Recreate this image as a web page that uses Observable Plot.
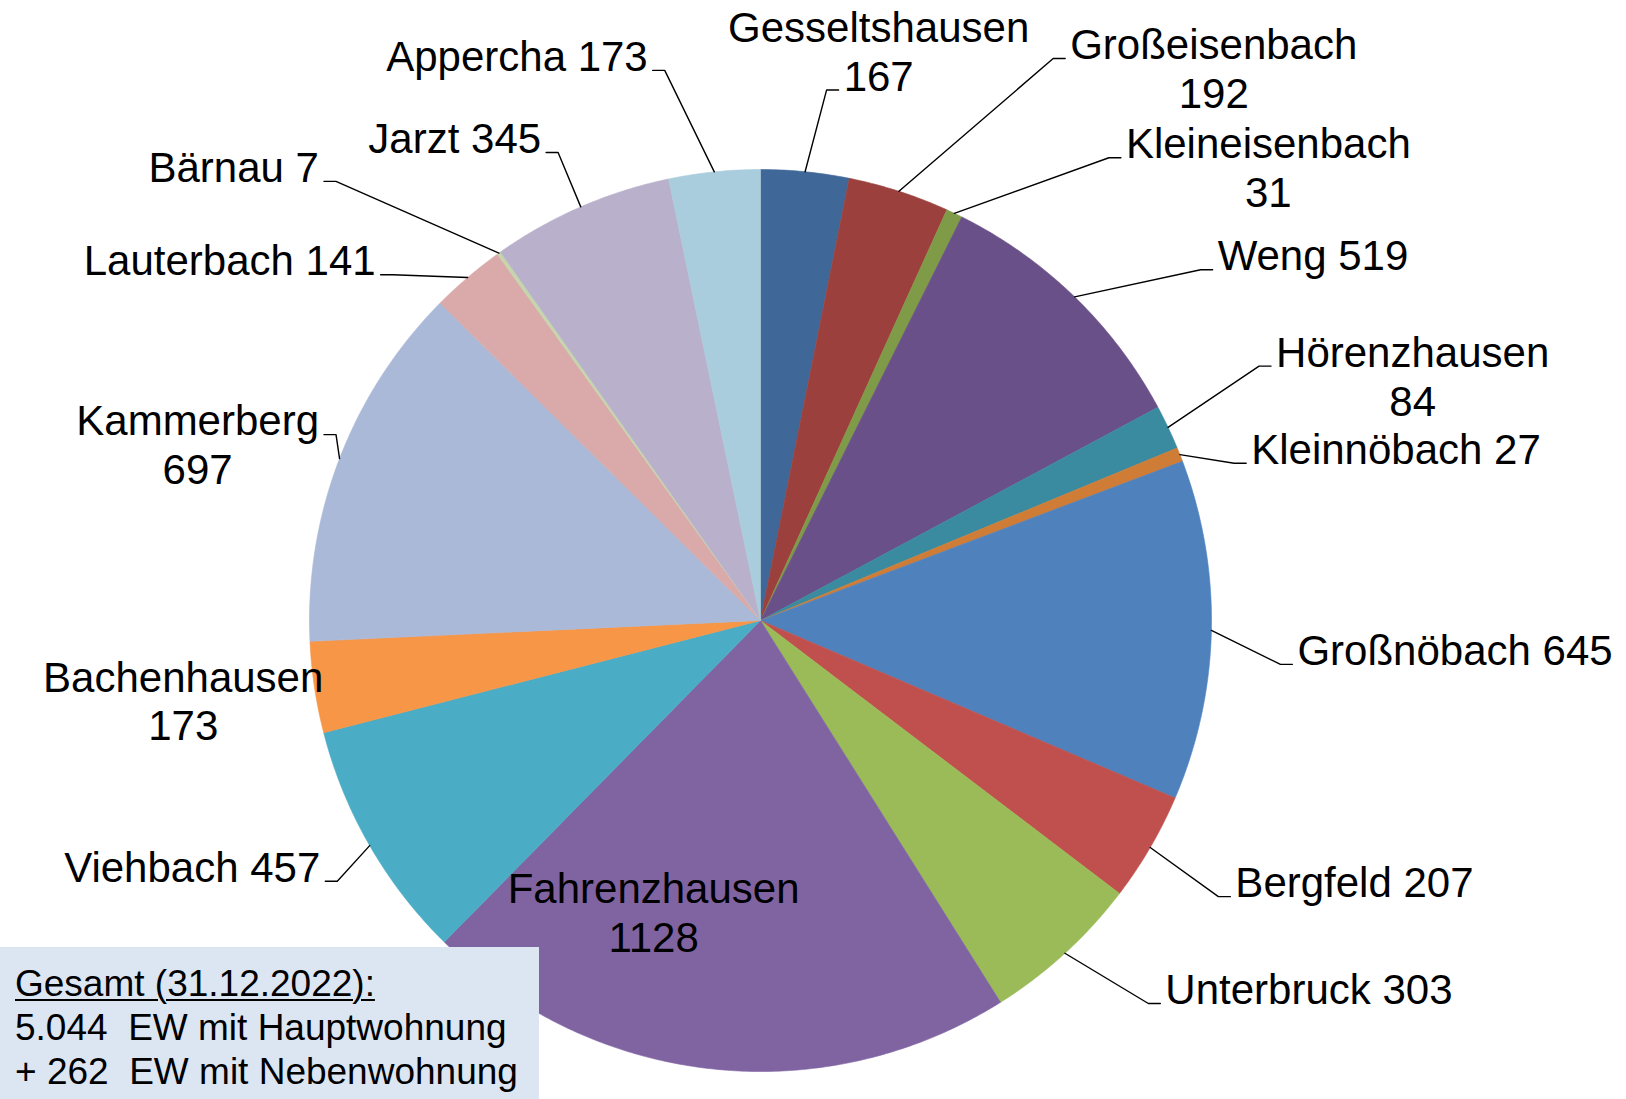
<!DOCTYPE html>
<html>
<head>
<meta charset="utf-8">
<script src="https://cdn.jsdelivr.net/npm/d3@7"></script>
<script src="https://cdn.jsdelivr.net/npm/@observablehq/plot@0.6"></script>
<style>
  body { margin: 0; background: #fff; font-family: "Liberation Sans", Arial, sans-serif; }
  #wrap { position: relative; width: 1626px; height: 1099px; overflow: hidden; }
  #box { position: absolute; left: 0; top: 947px; width: 539px; height: 152px; background: #DCE6F2;
         font-size: 37px; line-height: 44px; color: #000; padding: 15px 0 0 15px; box-sizing: border-box;
         white-space: pre; font-family: "Liberation Sans", Arial, sans-serif; }
  #box .u { text-decoration: underline; text-underline-offset: 3px; text-decoration-thickness: 2px; }
</style>
</head>
<body>
<div id="wrap">
  <div id="chart"></div>
  <div id="box"><div class="u">Gesamt (31.12.2022):</div><div>5.044  EW mit Hauptwohnung</div><div>+ 262  EW mit Nebenwohnung</div></div>
</div>
<script>
// ---- data ----
const names = ["Gesseltshausen", "Großeisenbach", "Kleineisenbach", "Weng", "Hörenzhausen", "Kleinnöbach",
  "Großnöbach", "Bergfeld", "Unterbruck", "Fahrenzhausen", "Viehbach", "Bachenhausen", "Kammerberg",
  "Lauterbach", "Bärnau", "Jarzt", "Appercha"];
const values = [167, 192, 31, 519, 84, 27, 645, 207, 303, 1128, 457, 173, 697, 141, 7, 345, 173];
const colors = ["#3F6898", "#9C403D", "#7F9B48", "#6A5088", "#3A8BA0", "#CF7C37",
  "#4F81BD", "#C0504D", "#9BBB59", "#8064A2", "#4BACC6", "#F79646", "#AAB9D7",
  "#D9AAA9", "#C6D6AC", "#B9B0CB", "#A9CDDC"];
const twoLineLabel = [true, true, true, false, true, false, false, false, false, true, false, true, true,
  false, false, false, false];

// ---- label layout (in units of pie radius, y downward) ----
const labelX = [0.262, 1.005, 1.126, 1.225, 1.446, 1.409, 1.540, 1.317, 1.216, -0.237, -1.260, -1.280, -1.248,
  -1.177, -1.168, -0.678, -0.540];
const labelY = [-1.264, -1.225, -1.005, -0.811, -0.543, -0.382, 0.064, 0.579, 0.816, 0.646, 0.545, 0.177, -0.391,
  -0.800, -1.007, -1.071, -1.253];
const leaderAttachLine = [1, 0, 0, 0, 0, 0, 0, 0, 0, 0, 0, 0, 0, 0, 0, 0, 0];
const showLeader = [true, true, true, true, true, true, true, true, true, false, true, false, true,
  true, true, true, true];

// ---- geometry ----
const W = 1626, H = 1099, CX = 760, CY = 620, R = 451;
const FS = 42, LH = 49;
const total = d3.sum(values);
const ends = Array.from(d3.cumsum(values));

const slices = [];
names.forEach((n, i) => {
  const a0 = (ends[i] - values[i]) / total * 2 * Math.PI;
  const a1 = ends[i] / total * 2 * Math.PI;
  const steps = Math.max(2, Math.ceil((a1 - a0) / (Math.PI / 360)));
  slices.push({name: n, x: 0, y: 0});
  for (let k = 0; k <= steps; k++) {
    const a = a0 + (a1 - a0) * k / steps;
    slices.push({name: n, x: Math.sin(a), y: Math.cos(a)});
  }
  slices.push({name: n, x: 0, y: 0});
});

const ctx = document.createElement("canvas").getContext("2d");
ctx.font = `${FS}px "Liberation Sans", Arial, sans-serif`;

const labels = names.map((n, i) => ({
  name: n,
  text: n + (twoLineLabel[i] ? "\n" : " ") + values[i],
  x: labelX[i],
  y: -labelY[i]
}));

const leaders = [];
labels.forEach((d, i) => {
  if (!showLeader[i]) return;
  const lines = d.text.split("\n");
  const n = lines.length;
  const side = labelX[i] > 0 ? 1 : -1;
  const blockCY = CY + labelY[i] * R;
  const firstC = blockCY - (n - 1) * LH / 2;
  const k = leaderAttachLine[i];
  const stubY = firstC + k * LH + 15;
  const lw = ctx.measureText(lines[k]).width;
  const tcx = CX + labelX[i] * R;
  const edgeX = tcx - side * lw / 2;
  const inner = edgeX - side * 5, outer = edgeX - side * 17;
  const mid = (ends[i] - values[i] / 2) / total * 2 * Math.PI;
  const toX = px => (px - CX) / R, toY = py => (CY - py) / R;
  leaders.push({id: i, x: Math.sin(mid), y: Math.cos(mid)});
  leaders.push({id: i, x: toX(outer), y: toY(stubY)});
  leaders.push({id: i, x: toX(inner), y: toY(stubY)});
});

const chart = Plot.plot({
  width: W, height: H,
  margin: 0,
  x: {domain: [-CX / R, (W - CX) / R], range: [0, W], axis: null},
  y: {domain: [-(H - CY) / R, CY / R], range: [H, 0], axis: null},
  color: {domain: names, range: colors},
  style: {fontFamily: '"Liberation Sans", Arial, sans-serif', background: "white"},
  marks: [
    Plot.line(slices, {x: "x", y: "y", z: "name", fill: "name", stroke: "name", strokeWidth: 0.6}),
    Plot.line(leaders, {x: "x", y: "y", z: "id", stroke: "black", strokeWidth: 1.4}),
    Plot.text(labels, {x: "x", y: "y", text: "text", fontSize: FS, lineHeight: LH / FS,
      textAnchor: "middle", lineAnchor: "middle", fill: "black"})
  ]
});
document.getElementById("chart").appendChild(chart);
</script>
</body>
</html>
